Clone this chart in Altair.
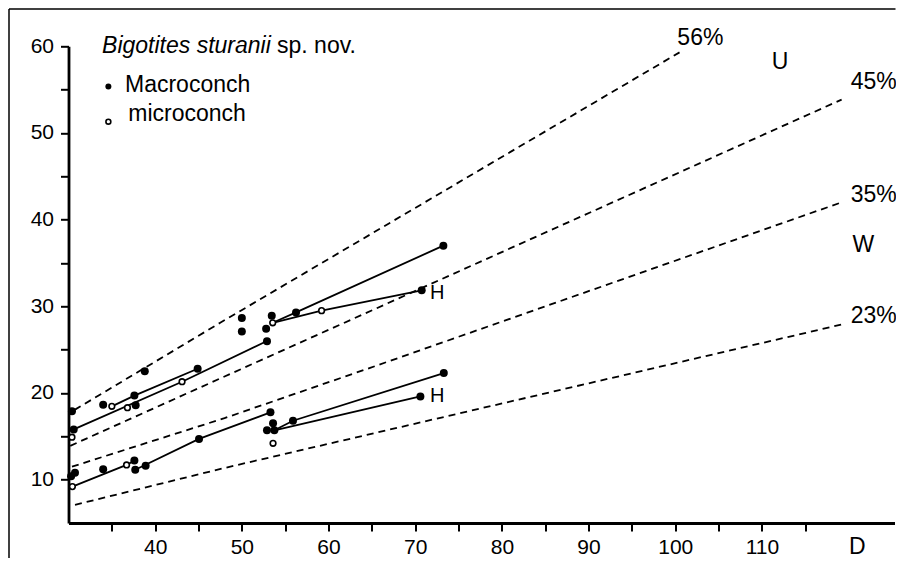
import altair as alt
import pandas as pd

FONT = "Liberation Sans"
K = 8.667                     # pixels per unit on both axes
X_DOM = [30, 125.3]
Y_DOM = [5, 60]
PW = round((X_DOM[1] - X_DOM[0]) * K, 1)
PH = round((Y_DOM[1] - Y_DOM[0]) * K, 1)
PAD = {"left": 60.5, "top": 38.3, "right": 1, "bottom": 35}

# ---- measured specimens (D = diameter, W = value) ----
macro_D = [30.4, 30.6, 34.0, 37.75, 37.6, 38.8, 44.9, 50.0, 50.0, 53.45, 52.8, 52.9, 56.25, 70.75, 73.25,
           30.3, 30.75, 34.0, 37.6, 37.7, 38.9, 45.06, 53.3, 53.6, 52.9, 53.75, 55.9, 70.6, 73.3]
macro_W = [17.9, 15.8, 18.65, 18.6, 19.7, 22.5, 22.8, 28.65, 27.1, 28.9, 27.4, 25.96, 29.3, 31.85, 37.0,
           10.4, 10.8, 11.2, 12.2, 11.15, 11.6, 14.7, 17.77, 16.5, 15.7, 15.7, 16.8, 19.6, 22.3]
micro_D = [30.4, 35.0, 36.8, 43.1, 53.56, 59.2, 30.45, 36.7, 53.6]
micro_W = [14.9, 18.46, 18.3, 21.3, 28.1, 29.5, 9.2, 11.7, 14.2]

# ---- growth lines of individual specimens ----
spec_ids = ["s1", "s2", "s3", "s4", "s5", "s6", "s7", "s8"]
spec_D = [[35.0, 37.6, 44.9], [30.6, 43.1, 52.9], [53.56, 56.25, 73.25], [53.56, 59.2, 70.75],
          [30.45, 36.7, 37.6], [37.7, 45.06, 53.3], [53.75, 55.9, 73.3], [53.75, 70.6]]
spec_W = [[18.46, 19.7, 22.8], [15.8, 21.3, 26.0], [28.1, 29.3, 37.0], [28.1, 29.5, 31.85],
          [9.2, 11.7, 12.2], [11.15, 14.7, 17.77], [15.7, 16.8, 22.3], [15.7, 19.6]]

# ---- dashed reference lines ----
guide_names = ["56%", "45%", "35%", "23%"]
guide_D = [[30.7, 47.5, 100.5], [30.2, 48.0, 119.2], [30.4, 48.0, 64.8, 119.2], [30.75, 48.0, 119.2]]
guide_W = [[18.05, 28.1, 59.3], [13.9, 21.9, 53.85], [11.5, 17.1, 22.9, 42.0], [7.1, 11.35, 27.9]]

# ---- text annotations ----
ann_text = ["56%", "45%", "35%", "23%", "U", "W", "D"]
ann_D = [102.9, 122.9, 122.9, 122.9, 112.1, 121.7, 121.0]
ann_W = [60.9, 55.9, 42.9, 28.9, 58.2, 37.1, 2.2]
h_D = [72.55, 72.55]
h_W = [31.55, 19.6]

# ---- legend ----
legend_labels = ["Macroconch", "microconch"]
legend_sym_D = [34.6, 34.6]
legend_sym_W = [55.36, 51.3]
legend_text_D = [36.52, 36.9]
legend_text_W = [55.5, 52.2]
title_italic = "Bigotites sturanii"
title_rest = "sp. nov."
title_D = [33.87, 54.06]
title_W = 60.0

macro = pd.DataFrame({"D": macro_D, "W": macro_W})
micro = pd.DataFrame({"D": micro_D, "W": micro_W})
spec = pd.DataFrame([{"id": s, "D": d, "W": w}
                     for s, ds, ws in zip(spec_ids, spec_D, spec_W) for d, w in zip(ds, ws)])
guides = pd.DataFrame([{"g": g, "D": d, "W": w}
                       for g, ds, ws in zip(guide_names, guide_D, guide_W) for d, w in zip(ds, ws)])
ann = pd.DataFrame({"t": ann_text, "D": ann_D, "W": ann_W})
hdf = pd.DataFrame({"t": ["H", "H"], "D": h_D, "W": h_W})
leg_sym = pd.DataFrame({"t": legend_labels, "D": legend_sym_D, "W": legend_sym_W})
leg_txt = pd.DataFrame({"t": legend_labels, "D": legend_text_D, "W": legend_text_W})
ttl_it = pd.DataFrame({"t": [title_italic], "D": [title_D[0]], "W": [title_W]})
ttl_rest = pd.DataFrame({"t": [title_rest], "D": [title_D[1]], "W": [title_W]})

x_axis = alt.Axis(values=list(range(35, 120, 5)),
                  labelExpr="datum.value % 10 == 0 ? datum.label : ''",
                  title=None, grid=False, tickSize=8, tickWidth=2, domainWidth=2.8,
                  labelFontSize=21, labelFont=FONT, labelPadding=5, labelColor="black",
                  tickColor="black", domainColor="black", labelOverlap=False, labelFlush=False)
y_axis = alt.Axis(values=list(range(10, 65, 5)),
                  labelExpr="datum.value % 10 == 0 ? datum.label : ''",
                  title=None, grid=False, tickSize=8, tickWidth=2, domainWidth=2.8,
                  labelFontSize=21, labelFont=FONT, labelPadding=7, labelColor="black",
                  tickColor="black", domainColor="black", labelOverlap=False, labelFlush=False)


def X(field="D"):
    return alt.X(f"{field}:Q", scale=alt.Scale(domain=X_DOM, nice=False, zero=False), axis=x_axis)


def Y(field="W"):
    return alt.Y(f"{field}:Q", scale=alt.Scale(domain=Y_DOM, nice=False, zero=False), axis=y_axis)


guide_layer = alt.Chart(guides).mark_line(color="black", strokeWidth=1.8, strokeDash=[7, 5]).encode(
    x=X(), y=Y(), detail="g:N")
spec_layer = alt.Chart(spec).mark_line(color="black", strokeWidth=1.8).encode(
    x=X(), y=Y(), detail="id:N")
macro_layer = alt.Chart(macro).mark_point(shape="circle", filled=True, color="black", size=64, opacity=1).encode(
    x=X(), y=Y())
micro_layer = alt.Chart(micro).mark_point(shape="circle", filled=True, fill="white", stroke="black",
                                          strokeWidth=1.6, size=32, opacity=1).encode(x=X(), y=Y())
ann_layer = alt.Chart(ann).mark_text(font=FONT, fontSize=23, color="black", align="center",
                                     baseline="middle").encode(x=X(), y=Y(), text="t:N")
h_layer = alt.Chart(hdf).mark_text(font=FONT, fontSize=20, color="black", align="center",
                                   baseline="middle").encode(x=X(), y=Y(), text="t:N")
leg_macro = alt.Chart(leg_sym.iloc[[0]]).mark_point(shape="circle", filled=True, color="black", size=36,
                                                    opacity=1).encode(x=X(), y=Y())
leg_micro = alt.Chart(leg_sym.iloc[[1]]).mark_point(shape="circle", filled=True, fill="white", stroke="black",
                                                    strokeWidth=1.6, size=24, opacity=1).encode(x=X(), y=Y())
leg_text = alt.Chart(leg_txt).mark_text(font=FONT, fontSize=23, color="black", align="left",
                                        baseline="middle").encode(x=X(), y=Y(), text="t:N")
title_it_layer = alt.Chart(ttl_it).mark_text(font=FONT, fontSize=23, fontStyle="italic", color="black",
                                             align="left", baseline="middle").encode(x=X(), y=Y(), text="t:N")
title_rest_layer = alt.Chart(ttl_rest).mark_text(font=FONT, fontSize=23, color="black",
                                                 align="left", baseline="middle").encode(x=X(), y=Y(), text="t:N")

one = pd.DataFrame({"k": [0]})
frame_left = alt.Chart(one).mark_rule(color="black", strokeWidth=1.5).encode(
    x=alt.value(-PAD["left"] + 1), y=alt.value(-PAD["top"] + 1), y2=alt.value(PH + PAD["bottom"]))
frame_top = alt.Chart(one).mark_rule(color="black", strokeWidth=1.5).encode(
    x=alt.value(-PAD["left"] + 1), x2=alt.value(PW + PAD["right"]), y=alt.value(-PAD["top"] + 1))

chart = alt.layer(
    guide_layer, spec_layer, micro_layer, macro_layer, ann_layer, h_layer,
    leg_macro, leg_micro, leg_text, title_it_layer, title_rest_layer, frame_left, frame_top
).properties(
    width=PW, height=PH,
    autosize=alt.AutoSizeParams(type="none"),
    padding=PAD,
    background="white",
).configure_view(stroke=None)

chart.save("out.html", embed_options={"renderer": "svg", "actions": False})
